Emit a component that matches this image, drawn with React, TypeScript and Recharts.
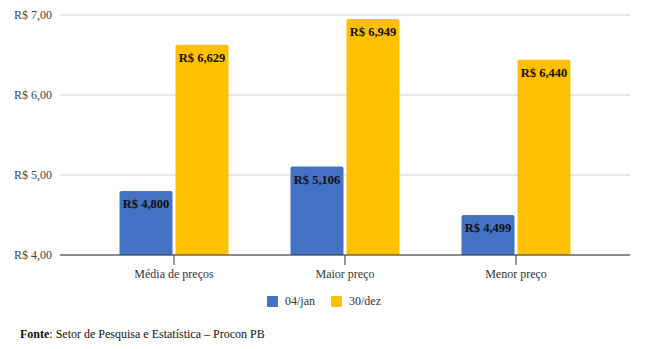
import { BarChart, Bar, XAxis, YAxis, CartesianGrid, LabelList } from 'recharts';

const categories = ['Média de preços', 'Maior preço', 'Menor preço'];
const jan = [4.8, 5.106, 4.499];
const dez = [6.629, 6.949, 6.44];
const yTicks = [4, 5, 6, 7];
const seriesNames = ['04/jan', '30/dez'];

const BLUE = '#4472C4';
const YELLOW = '#FFC000';
const FONT = '"Liberation Serif", "Times New Roman", serif';

const data = categories.map((name, i) => ({ name, jan: jan[i], dez: dez[i] }));

const money = (v: number, digits: number) => 'R$ ' + v.toFixed(digits).replace('.', ',');

const BarLabel = (props: any) => {
  const { x, y, width, value } = props;
  return (
    <text
      x={Number(x) + Number(width) / 2}
      y={Number(y) + 17}
      textAnchor="middle"
      fill="#111"
      fontSize={12.5}
      fontWeight="bold"
      fontFamily={FONT}
    >
      {money(Number(value), 3)}
    </text>
  );
};

export default function App() {
  return (
    <div
      style={{
        position: 'absolute',
        left: 0,
        top: 0,
        width: 657,
        height: 349,
        background: '#fff',
        fontFamily: FONT,
      }}
    >
      <BarChart
        width={657}
        height={290}
        data={data}
        margin={{ top: 15, right: 27, left: 0, bottom: 0 }}
        barCategoryGap={31}
        barGap={3}
      >
        <CartesianGrid vertical={false} stroke="#d0d0d0" />
        <YAxis
          width={60}
          domain={[4, 7]}
          ticks={yTicks}
          axisLine={false}
          tickLine={false}
          tickFormatter={(v: number) => money(v, 2)}
          tick={{ fill: '#444', fontSize: 12, fontFamily: FONT }}
        />
        <XAxis
          dataKey="name"
          height={35}
          padding={{ left: 28.5, right: 28.5 }}
          stroke="#333"
          tickSize={10}
          tickMargin={4}
          tick={{ fill: '#333', fontSize: 12, fontFamily: FONT }}
        />
        <Bar dataKey="jan" fill={BLUE} radius={[2, 2, 0, 0]} isAnimationActive={false}>
          <LabelList dataKey="jan" content={<BarLabel />} />
        </Bar>
        <Bar dataKey="dez" fill={YELLOW} radius={[2, 2, 0, 0]} isAnimationActive={false}>
          <LabelList dataKey="dez" content={<BarLabel />} />
        </Bar>
      </BarChart>

      <div
        style={{
          position: 'absolute',
          top: 294,
          left: 267,
          display: 'flex',
          alignItems: 'center',
          fontSize: 12,
          color: '#333',
        }}
      >
        {seriesNames.map((s, i) => (
          <div key={s} style={{ display: 'flex', alignItems: 'center', marginRight: 16 }}>
            <span
              style={{
                width: 11,
                height: 11,
                borderRadius: 1,
                background: i === 0 ? BLUE : YELLOW,
                marginRight: 7,
                display: 'inline-block',
              }}
            />
            <span>{s}</span>
          </div>
        ))}
      </div>

      <div style={{ position: 'absolute', top: 327, left: 20, fontSize: 12, color: '#111' }}>
        <b>Fonte</b>: Setor de Pesquisa e Estatística – Procon PB
      </div>
    </div>
  );
}
